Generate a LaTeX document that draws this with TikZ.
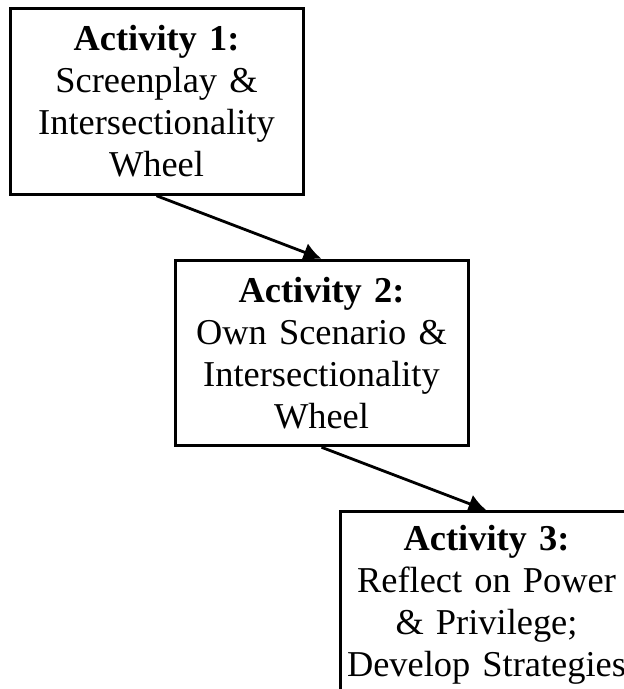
\documentclass[tikz,border=0pt]{standalone}
\usepackage{fontspec}
\setmainfont{Liberation Serif}
\usepackage{tikz}
\usetikzlibrary{arrows.meta,positioning}
\tikzset{>/.tip={Latex[length=9pt,width=9.5pt]}}

\begin{document}
\begin{tikzpicture}[node distance=31.5pt,
    actbox/.style={draw,line width=1.5pt,minimum width=146.5pt,minimum height=92.75pt,
      text width=140pt,align=center,inner sep=3pt,
      font=\fontsize{18.2pt}{21pt}\selectfont}]
      \useasboundingbox (0,0) rectangle (312pt,-344.5pt);

      \node[actbox] (act1) at (78.25pt,-50.75pt)
        {\textbf{Activity 1:}\\Screenplay \&\\Intersectionality\\Wheel};
      \node[actbox,below=of act1,xshift=82.5pt] (act2)
        {\textbf{Activity 2:}\\Own Scenario \&\\Intersectionality\\Wheel};
      \node[actbox,below=of act2,xshift=82.5pt] (act3)
        {\textbf{Activity 3:}\\Reflect on Power\\\& Privilege;\\Develop Strategies};

      \draw[->,line width=1.4pt] (act1.south) -- (act2.north);
      \draw[->,line width=1.4pt] (act2.south) -- (act3.north);
    \end{tikzpicture}
\end{document}
